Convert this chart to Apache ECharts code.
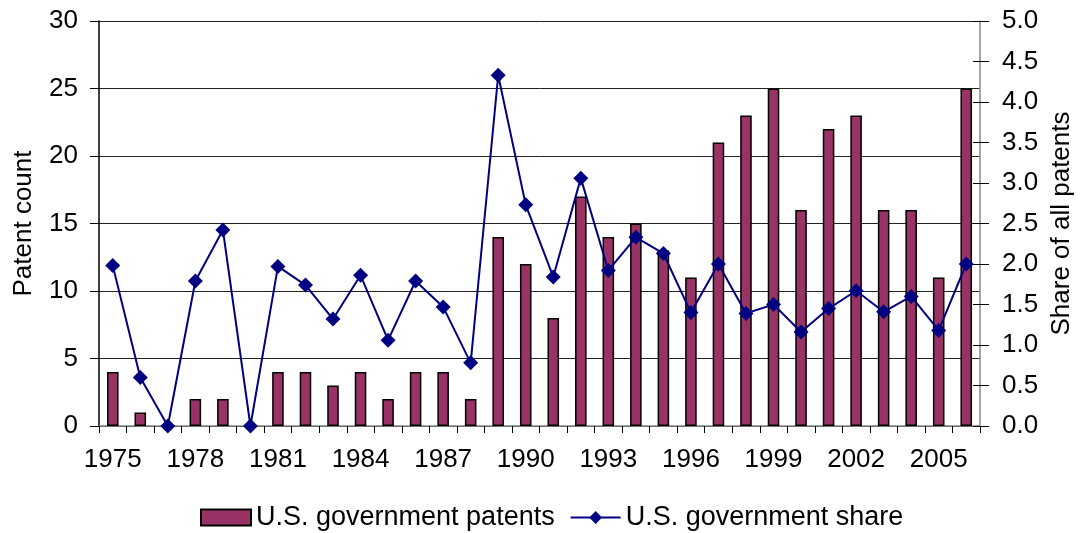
<!DOCTYPE html>
<html><head><meta charset="utf-8">
<script src="https://cdn.jsdelivr.net/npm/echarts@6/dist/echarts.min.js"></script>
<style>html,body{margin:0;padding:0;background:#fff}#c{width:1080px;height:533px}</style>
</head><body><div id="c"></div>
<script>
const years = ['1975','1976','1977','1978','1979','1980','1981','1982','1983','1984','1985','1986','1987','1988','1989','1990','1991','1992','1993','1994','1995','1996','1997','1998','1999','2000','2001','2002','2003','2004','2005','2006'];
const patents = [4,1,0,2,2,0,4,4,3,4,2,4,4,2,14,12,8,17,14,15,13,11,21,23,25,16,22,23,16,16,11,25];
const share = [1.98,0.60,0.00,1.79,2.42,0.00,1.97,1.74,1.32,1.86,1.06,1.79,1.47,0.78,4.33,2.73,1.84,3.06,1.92,2.33,2.13,1.40,2.00,1.39,1.50,1.16,1.45,1.67,1.41,1.60,1.18,2.00];
const leftTicks = [0,5,10,15,20,25,30];
const rightTicks = ['0.0','0.5','1.0','1.5','2.0','2.5','3.0','3.5','4.0','4.5','5.0'];

const font = 'Liberation Sans, Arial, sans-serif';
const FS = 26;
const chart = echarts.init(document.getElementById('c'), null, {renderer:'canvas'});
chart.setOption({
  animation:false,
  textStyle:{fontFamily:font},
  grid:{left:99,right:100,top:21,bottom:107,containLabel:false,outerBoundsMode:'none'},
  legend:{
    top:499,left:195,itemGap:15,itemWidth:50,itemHeight:16,
    textStyle:{fontFamily:font,fontSize:27,color:'#000'},
    data:[{name:'U.S. government patents',icon:'rect'},{name:'U.S. government share'}]
  },
  xAxis:{
    type:'category',data:years,boundaryGap:true,
    axisLine:{lineStyle:{color:'#888',width:1.5}},
    axisTick:{show:true,interval:0,length:7,lineStyle:{color:'#000'}},
    axisLabel:{interval:2,fontSize:FS,color:'#000',margin:21,fontFamily:font}
  },
  yAxis:[{
    type:'value',min:0,max:30,interval:5,
    name:'Patent count',nameLocation:'middle',nameRotate:90,nameGap:62,
    nameTextStyle:{fontSize:FS,color:'#000',fontFamily:font},
    axisLine:{show:true,lineStyle:{color:'#000',width:1.5}},
    axisTick:{show:true,length:9,lineStyle:{color:'#000'}},
    axisLabel:{fontSize:FS,color:'#000',margin:21,fontFamily:font,formatter:v=>String(v)},
    splitLine:{show:true,lineStyle:{color:'#222',width:1}}
  },{
    type:'value',min:0,max:5,interval:0.5,position:'right',
    name:'Share of all patents',nameLocation:'middle',nameRotate:90,nameGap:69,
    nameTextStyle:{fontSize:FS,color:'#000',fontFamily:font},
    axisLine:{show:true,lineStyle:{color:'#888',width:1.5}},
    axisTick:{show:true,length:9,lineStyle:{color:'#000'}},
    axisLabel:{fontSize:FS,color:'#000',margin:22,fontFamily:font,formatter:v=>v.toFixed(1)},
    splitLine:{show:false}
  },{
    type:'value',min:0,max:5,interval:0.5,position:'right',
    axisLine:{show:false},
    axisTick:{show:true,inside:true,length:7,lineStyle:{color:'#000'}},
    axisLabel:{show:false},
    splitLine:{show:false}
  }],
  series:[{
    name:'U.S. government patents',type:'bar',data:patents,yAxisIndex:0,
    barWidth:'42%',
    itemStyle:{color:'#993366',borderColor:'#000',borderWidth:1.5}
  },{
    name:'U.S. government share',type:'line',data:share,yAxisIndex:1,
    symbol:'diamond',symbolSize:15,showSymbol:true,
    lineStyle:{color:'#000080',width:2},
    itemStyle:{color:'#000080'}
  }]
});
</script></body></html>
